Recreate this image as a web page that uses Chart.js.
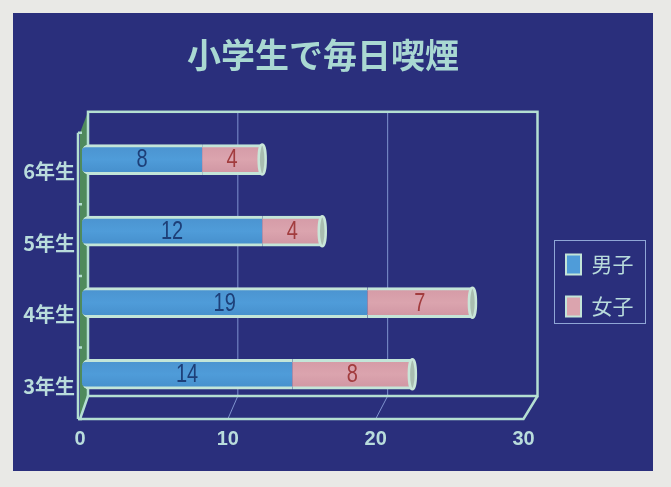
<!DOCTYPE html>
<html lang="ja">

<head>
    <meta charset="UTF-8">
    <title>小学生で毎日喫煙</title>
    <script src="https://cdn.jsdelivr.net/npm/chart.js"></script>
    <style>
        html, body {
            margin: 0;
            padding: 0;
            background-color: #e9e9e6;
        }

        #panel {
            position: absolute;
            left: 13px;
            top: 13px;
            width: 640px;
            height: 458px;
            background-color: #2a2f7c;
        }

        #wrap {
            position: absolute;
            left: 0;
            top: 0;
            width: 671px;
            height: 487px;
        }
    </style>
</head>

<body>
    <div id="panel"></div>
    <div id="wrap"><canvas id="chart"></canvas></div>

    <script>
        const grades = ["6年生", "5年生", "4年生", "3年生"];
        const boys = [8, 12, 19, 14];
        const girls = [4, 4, 7, 8];
        const xTicks = [0, 10, 20, 30];

        const lineColor = "#b4dfd2";
        const textColor = "#b9dcdc";
        const jpFont = '"Noto Sans CJK JP", "Noto Sans", sans-serif';

        // 3D look of the old spreadsheet chart: back wall and floor are offset from the front axis
        function backX(scale, v) {
            return scale.getPixelForValue(v) + 8 + 0.2 * v;
        }

        const frame3d = {
            id: "frame3d",
            beforeDatasetsDraw(chart) {
                const ctx = chart.ctx;
                const x = chart.scales.x;
                const area = chart.chartArea;
                const front = area.bottom + 9;
                const floor = area.bottom - 14;
                const ceil = area.top - 12;
                const x0 = x.getPixelForValue(0);
                const x30 = x.getPixelForValue(30);

                ctx.save();
                // left wall
                ctx.fillStyle = "#4f8a5c";
                ctx.beginPath();
                ctx.moveTo(x0, area.top + 9);
                ctx.lineTo(backX(x, 0), ceil);
                ctx.lineTo(backX(x, 0), floor);
                ctx.lineTo(x0, front);
                ctx.closePath();
                ctx.fill();

                // grid lines on the floor and back wall
                ctx.strokeStyle = "#7f93cf";
                ctx.lineWidth = 1;
                [10, 20].forEach(function (v) {
                    ctx.beginPath();
                    ctx.moveTo(x.getPixelForValue(v), front);
                    ctx.lineTo(backX(x, v), floor);
                    ctx.lineTo(backX(x, v), ceil);
                    ctx.stroke();
                });

                // back wall and floor
                ctx.strokeStyle = lineColor;
                ctx.lineWidth = 2.5;
                ctx.strokeRect(backX(x, 0), ceil, backX(x, 30) - backX(x, 0), floor - ceil);
                ctx.beginPath();
                ctx.moveTo(backX(x, 0), floor);
                ctx.lineTo(x0, front);
                ctx.lineTo(x30, front);
                ctx.lineTo(backX(x, 30), floor);
                ctx.stroke();

                // left axis with its ticks
                ctx.beginPath();
                ctx.moveTo(x0 - 2, area.top + 9);
                ctx.lineTo(x0 - 2, front);
                for (let i = 0; i <= grades.length; i++) {
                    const ty = area.top + 9 + (area.height * i) / grades.length;
                    ctx.moveTo(x0 - 2, ty);
                    ctx.lineTo(x0 + 2, ty);
                }
                ctx.stroke();
                ctx.restore();
            },
            afterDatasetsDraw(chart) {
                const ctx = chart.ctx;
                ctx.save();

                // round end caps of the cylinders
                chart.getDatasetMeta(1).data.forEach(function (bar) {
                    ctx.beginPath();
                    ctx.ellipse(bar.x, bar.y, 3.5, 15, 0, 0, Math.PI * 2);
                    ctx.fillStyle = "#a9bdb0";
                    ctx.fill();
                    ctx.strokeStyle = "#c9e6d8";
                    ctx.lineWidth = 2.5;
                    ctx.stroke();
                });

                // value labels, squeezed because the original uses a narrow face
                ctx.font = '25px "Liberation Sans", sans-serif';
                ctx.textAlign = "center";
                ctx.textBaseline = "middle";
                chart.data.datasets.forEach(function (ds, i) {
                    ctx.fillStyle = i === 0 ? "#1d3f78" : "#a23c3e";
                    chart.getDatasetMeta(i).data.forEach(function (bar, j) {
                        const c = bar.getCenterPoint();
                        ctx.save();
                        ctx.translate(c.x, c.y + 1);
                        ctx.scale(0.8, 1);
                        ctx.fillText(ds.data[j], 0, 0);
                        ctx.restore();
                    });
                });

                // legend border
                ctx.strokeStyle = "#8fa6d6";
                ctx.lineWidth = 1;
                ctx.strokeRect(554.5, 240.5, 91, 83);
                ctx.restore();
            },
            afterLayout(chart) {
                // move legend and title to where the original has them
                const lg = chart.legend;
                lg.left = 545;
                lg.right = 660;
                lg.top = 233;
                lg.bottom = 420;
                lg.width = 115;
                lg.height = 187;
                chart.titleBlock.left = 0;
                chart.titleBlock.right = 646;
            }
        };

        function barFill(top, mid, bottom) {
            return function (c) {
                if (c.dataIndex === undefined) return mid;
                const cy = c.chart.scales.y.getPixelForValue(c.dataIndex);
                if (!isFinite(cy)) return mid;
                const g = c.chart.ctx.createLinearGradient(0, cy - 15, 0, cy + 15);
                g.addColorStop(0, top);
                g.addColorStop(0.5, mid);
                g.addColorStop(1, bottom);
                return g;
            };
        }

        new Chart(document.getElementById("chart"), {
            type: "bar",
            data: {
                labels: grades,
                datasets: [{
                    label: "男子",
                    data: boys,
                    xAxisID: "xBar",
                    backgroundColor: barFill("#4b93cf", "#4f9cd9", "#458ecb"),
                    borderColor: "#c3e5d8",
                    borderWidth: { top: 3, bottom: 3, left: 0, right: 0 },
                    borderRadius: { topLeft: 7, bottomLeft: 7 },
                    borderSkipped: false,
                    barThickness: 30
                }, {
                    label: "女子",
                    data: girls,
                    xAxisID: "xBar",
                    backgroundColor: barFill("#d49aa6", "#dba4ae", "#cf95a2"),
                    borderColor: "#c3e5d8",
                    borderWidth: { top: 3, bottom: 3, left: 0, right: 0 },
                    borderSkipped: false,
                    barThickness: 30
                }]
            },
            options: {
                indexAxis: "y",
                responsive: true,
                maintainAspectRatio: false,
                animation: false,
                layout: { padding: { left: 0, right: 49, top: 35, bottom: 0 } },
                scales: {
                    x: {
                        type: "linear",
                        position: "bottom",
                        min: 0,
                        max: 30,
                        afterBuildTicks(scale) {
                            scale.ticks = xTicks.map(function (v) { return { value: v }; });
                        },
                        grid: { display: false },
                        border: { display: false },
                        ticks: {
                            color: textColor,
                            padding: 9,
                            maxRotation: 0,
                            font: { family: '"Liberation Sans", sans-serif', size: 20, weight: "bold" }
                        },
                        afterFit(scale) { scale.height = 77; }
                    },
                    xBar: {
                        // the bars sit between the front axis and the back wall, so slightly wider
                        type: "linear",
                        display: false,
                        stacked: true,
                        min: -0.13,
                        max: 29.4
                    },
                    y: {
                        type: "category",
                        stacked: true,
                        grid: { display: false, drawTicks: false },
                        border: { display: false },
                        ticks: {
                            color: textColor,
                            padding: 5,
                            labelOffset: 12,
                            font: { family: jpFont, size: 20, weight: "bold" }
                        },
                        afterFit(scale) { scale.width = 80; }
                    }
                },
                plugins: {
                    title: {
                        display: true,
                        text: "小学生で毎日喫煙",
                        color: "#a9d8d2",
                        padding: { top: 0, bottom: 48 },
                        font: { family: jpFont, size: 34, weight: "bold" }
                    },
                    legend: {
                        position: "right",
                        align: "start",
                        labels: {
                            color: textColor,
                            boxWidth: 15,
                            boxHeight: 20,
                            padding: 21,
                            font: { family: jpFont, size: 21 },
                            generateLabels() {
                                return [
                                    { text: "男子", fillStyle: "#4f9cd9", strokeStyle: "#c3e5d8", lineWidth: 2, fontColor: textColor },
                                    { text: "女子", fillStyle: "#dba4ae", strokeStyle: "#c3e5d8", lineWidth: 2, fontColor: textColor }
                                ];
                            }
                        }
                    },
                    tooltip: { enabled: false }
                }
            },
            plugins: [frame3d]
        });
    </script>
</body>

</html>
